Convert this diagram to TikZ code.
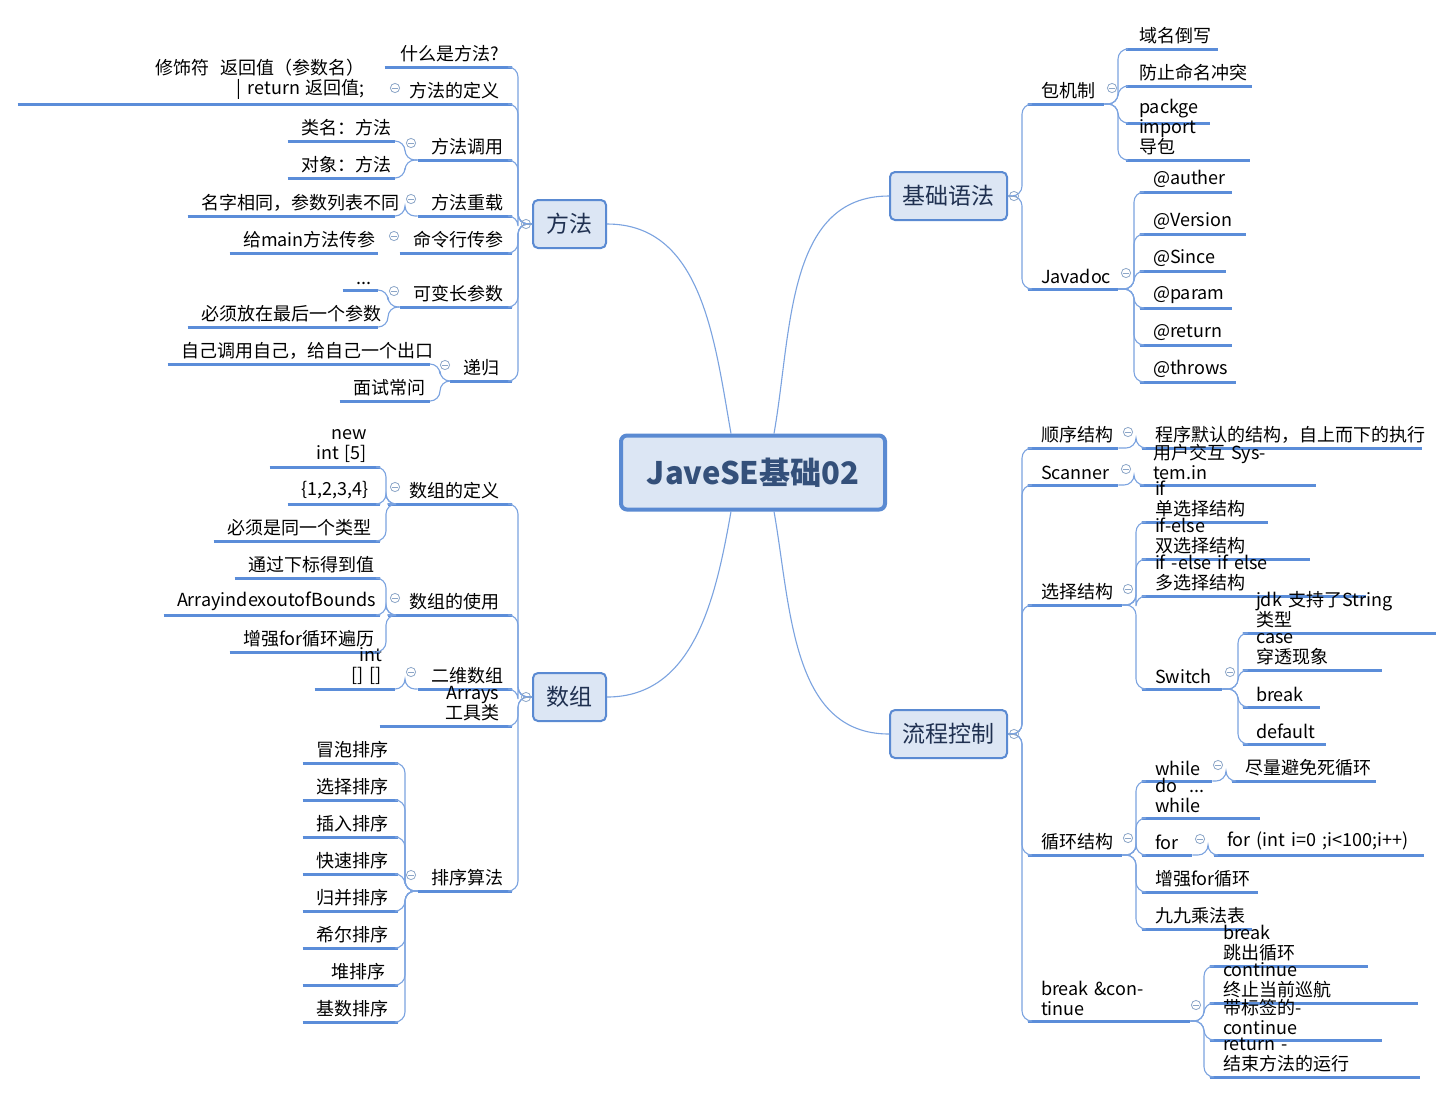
\documentclass[tikz,border=0pt]{standalone}
\usepackage{fontspec}
\setmainfont{Noto Sans CJK SC}
\usetikzlibrary{calc}
\definecolor{ulc}{HTML}{5B8DD9}
\definecolor{cnc}{HTML}{7BA3E0}
\definecolor{tfill}{HTML}{DCE6F4}
\definecolor{tbord}{HTML}{5A8AD2}
\definecolor{ttext}{HTML}{1F3050}
\definecolor{ctext}{HTML}{34507A}
\definecolor{togc}{HTML}{8CA6C8}
\tikzset{
  itm/.style={inner xsep=6.5pt,inner ysep=2.2pt,font=\fontsize{9}{10}\selectfont,text=black},
  ul/.style={draw=ulc,line width=1.5pt},
  conn/.style={draw=cnc,line width=0.55pt,rounded corners=5pt},
  topic/.style={draw=tbord,line width=1pt,fill=tfill,rounded corners=2.5pt,text=ttext,font=\fontsize{11.5}{13}\selectfont,inner sep=0pt},
  tog/.style={circle,draw=togc,line width=0.4pt,minimum size=4.6pt,inner sep=0pt,
    path picture={\draw[togc,line width=0.4pt] ([xshift=-1.3pt]path picture bounding box.center) -- ([xshift=1.3pt]path picture bounding box.center);}}
}
\newcommand\NL[5]{\pgfmathsetmacro\tw{(#3-#2)*0.5-13}\node[itm,anchor=south,text width=\tw pt,align=right] (#1) at ({(#2+#3)/2},#4) {#5};\draw[ul] (#1.south west) -- (#1.south east);}
\newcommand\NR[5]{\pgfmathsetmacro\tw{(#3-#2)*0.5-13}\node[itm,anchor=south,text width=\tw pt,align=left] (#1) at ({(#2+#3)/2},#4) {#5};\draw[ul] (#1.south west) -- (#1.south east);}
\newcommand\brL[3]{\draw[conn] (#1) -| (#3,0 |- #2) -- (#2);}
\newcommand\brR[3]{\draw[conn] (#2) -- (#3,0 |- #2) |- (#1);}
\begin{document}
\begin{tikzpicture}[x=0.5pt,y=-0.5pt]
\useasboundingbox[fill=white] (0,0) rectangle (1455,1094);
% center and topics
\node[draw=tbord,line width=2pt,fill=tfill,rounded corners=3pt,minimum width=132pt,minimum height=37pt,text=ctext,font=\fontsize{15.5}{17}\selectfont\bfseries] (cen) at (753,472.5) {JaveSE基础02};
\node[topic,minimum width=36.5pt,minimum height=24pt] (fa) at (569.5,224) {方法};
\node[topic,minimum width=36.5pt,minimum height=24pt] (sz) at (569.5,697) {数组};
\node[topic,minimum width=58.5pt,minimum height=24pt] (jc) at (948.5,196) {基础语法};
\node[topic,minimum width=58.5pt,minimum height=24pt] (lc) at (948.5,734) {流程控制};
\draw[conn] ([xshift=-11pt]cen.north) to[out=100,in=0] (fa.east);
\draw[conn] ([xshift=10.5pt]cen.north) to[out=80,in=180] (jc.west);
\draw[conn] ([xshift=-11pt]cen.south) to[out=-100,in=0] (sz.east);
\draw[conn] ([xshift=10.5pt]cen.south) to[out=-80,in=180] (lc.west);
% ===== 方法 =====
\NL{m1}{385}{512}{67}{什么是方法?}
\NL{m2}{378}{512}{104}{方法的定义}
\NL{m2a}{18}{378}{104}{修饰符\ \ 返回值（参数名）\ \ | return 返回值;}
\NL{m3}{418}{512}{160}{方法调用}
\NL{m3a}{288}{395}{141}{类名：方法}
\NL{m3b}{288}{395}{178}{对象：方法}
\NL{m4}{418}{512}{216}{方法重载}
\NL{m4a}{188}{395}{216}{名字相同，参数列表不同}
\NL{m5}{400}{512}{253}{命令行传参}
\NL{m5a}{230}{378}{253}{给main方法传参}
\NL{m6}{400}{512}{307}{可变长参数}
\NL{m6a}{343}{378}{290}{...}
\NL{m6b}{188}{378}{327}{必须放在最后一个参数}
\NL{m7}{450}{512}{381}{递归}
\NL{m7a}{168}{430}{364}{自己调用自己，给自己一个出口}
\NL{m7b}{340}{430}{401}{面试常问}
\foreach \c in {m1,m2,m3,m4,m5,m6,m7} {\brL{\c.south east}{fa.west}{518}}
\brL{m3a.south east}{m3.south west}{405}
\brL{m3b.south east}{m3.south west}{405}
\brL{m4a.south east}{m4.south west}{405}
\brL{m6a.south east}{m6.south west}{388}
\brL{m6b.south east}{m6.south west}{388}
\brL{m7a.south east}{m7.south west}{440}
\brL{m7b.south east}{m7.south west}{440}
\node[tog] (tfa) at (526,224) {};
\node[tog] (tm2) at (395,88) {};
\node[tog] (tm3) at (411,143) {};
\node[tog] (tm4) at (411,199) {};
\node[tog] (tm5) at (394,236) {};
\node[tog] (tm6) at (394,291) {};
\node[tog] (tm7) at (445,365) {};
% ===== 数组 =====
\NL{a1}{388}{512}{504}{数组的定义}
\NL{a1a}{270}{380}{467}{new int [5]}
\NL{a1b}{288}{380}{504}{\{1,2,3,4\}}
\NL{a1c}{214}{380}{541}{必须是同一个类型}
\NL{a2}{388}{512}{615}{数组的使用}
\NL{a2a}{235}{380}{578}{通过下标得到值}
\NL{a2b}{164}{380}{615}{ArrayindexoutofBounds}
\NL{a2c}{230}{380}{652}{增强for循环遍历}
\NL{a3}{418}{512}{689}{二维数组}
\NL{a3a}{315}{395}{689}{int [] []}
\NL{a4}{380}{512}{726}{Arrays 工具类}
\NL{a5}{418}{512}{891}{排序算法}
\NL{s1}{303}{398}{763}{冒泡排序}
\NL{s2}{303}{398}{800}{选择排序}
\NL{s3}{303}{398}{837}{插入排序}
\NL{s4}{303}{398}{874}{快速排序}
\NL{s5}{303}{398}{911}{归并排序}
\NL{s6}{303}{398}{948}{希尔排序}
\NL{s7}{303}{398}{985}{堆排序}
\NL{s8}{303}{398}{1022}{基数排序}
\foreach \c in {a1,a2,a3,a4,a5} {\brL{\c.south east}{sz.west}{518}}
\foreach \c in {a1a,a1b,a1c} {\brL{\c.south east}{a1.south west}{386}}
\foreach \c in {a2a,a2b,a2c} {\brL{\c.south east}{a2.south west}{386}}
\brL{a3a.south east}{a3.south west}{405}
\foreach \c in {s1,s2,s3,s4,s5,s6,s7,s8} {\brL{\c.south east}{a5.south west}{405}}
\node[tog] (tsz) at (526,697) {};
\node[tog] (ta1) at (395,487) {};
\node[tog] (ta2) at (395,598) {};
\node[tog] (ta3) at (411,672) {};
\node[tog] (ta5) at (411,875) {};
% ===== 基础语法 =====
\NR{b1}{1028}{1104}{104}{包机制}
\NR{b1a}{1126}{1218}{49}{域名倒写}
\NR{b1b}{1126}{1252}{86}{防止命名冲突}
\NR{b1c}{1126}{1210}{123}{packge}
\NR{b1d}{1126}{1250}{160}{import\ \ 导包}
\NR{b2}{1028}{1118}{289}{Javadoc}
\NR{b2a}{1140}{1232}{192}{@auther}
\NR{b2b}{1140}{1246}{234}{@Version}
\NR{b2c}{1140}{1226}{271}{@Since}
\NR{b2d}{1140}{1232}{308}{@param}
\NR{b2e}{1140}{1232}{345}{@return}
\NR{b2f}{1140}{1236}{382}{@throws}
\foreach \c in {b1,b2} {\brR{\c.south west}{jc.east}{1022}}
\foreach \c in {b1a,b1b,b1c,b1d} {\brR{\c.south west}{b1.south east}{1118}}
\foreach \c in {b2a,b2b,b2c,b2d,b2e,b2f} {\brR{\c.south west}{b2.south east}{1134}}
\node[tog] (tjc) at (1014,196) {};
\node[tog] (tb1) at (1112,88) {};
\node[tog] (tb2) at (1126,273) {};
% ===== 流程控制 =====
\NR{c1}{1028}{1118}{448}{顺序结构}
\NR{c1a}{1142}{1422}{448}{程序默认的结构，自上而下的执行}
\NR{c2}{1028}{1118}{485}{Scanner}
\NR{c2a}{1140}{1316}{485}{用户交互 System.in}
\NR{c3}{1028}{1122}{605}{选择结构}
\NR{c3a}{1142}{1268}{522}{if 单选择结构}
\NR{c3b}{1142}{1310}{559}{if-else 双选择结构}
\NR{c3c}{1142}{1366}{596}{if -else if else 多选择结构}
\NR{c3d}{1142}{1222}{689}{Switch}
\NR{w1}{1243}{1436}{633}{jdk 支持了String 类型}
\NR{w2}{1243}{1382}{670}{case\ \ 穿透现象}
\NR{w3}{1243}{1320}{707}{break}
\NR{w4}{1243}{1326}{744}{default}
\NR{c4}{1028}{1122}{855}{循环结构}
\NR{c4a}{1142}{1212}{781}{while}
\NR{c4a1}{1232}{1376}{781}{尽量避免死循环}
\NR{c4b}{1142}{1260}{818}{do\ \ ... while}
\NR{c4c}{1142}{1192}{855}{for}
\NR{c4c1}{1214}{1424}{855}{for (int i=0 ;i<100;i++)}
\NR{c4d}{1142}{1258}{892}{增强for循环}
\NR{c4e}{1142}{1252}{929}{九九乘法表}
\NR{c5}{1028}{1190}{1021}{break \&continue}
\NR{c5a}{1210}{1368}{966}{break\quad 跳出循环}
\NR{c5b}{1210}{1418}{1003}{continue\ \ 终止当前巡航}
\NR{c5c}{1210}{1382}{1040}{带标签的-continue}
\NR{c5d}{1210}{1420}{1077}{return - 结束方法的运行}
\foreach \c in {c1,c2,c3,c4,c5} {\brR{\c.south west}{lc.east}{1022}}
\brR{c1a.south west}{c1.south east}{1136}
\brR{c2a.south west}{c2.south east}{1134}
\foreach \c in {c3a,c3b,c3c,c3d} {\brR{\c.south west}{c3.south east}{1136}}
\foreach \c in {w1,w2,w3,w4} {\brR{\c.south west}{c3d.south east}{1238}}
\foreach \c in {c4a,c4b,c4c,c4d,c4e} {\brR{\c.south west}{c4.south east}{1136}}
\brR{c4a1.south west}{c4a.south east}{1226}
\brR{c4c1.south west}{c4c.south east}{1208}
\foreach \c in {c5a,c5b,c5c,c5d} {\brR{\c.south west}{c5.south east}{1204}}
\node[tog] (tlc) at (1014,734) {};
\node[tog] (tc1) at (1128,432) {};
\node[tog] (tc2) at (1126,469) {};
\node[tog] (tc3) at (1128,589) {};
\node[tog] (tc3d) at (1230,672) {};
\node[tog] (tc4) at (1128,838) {};
\node[tog] (tc4a) at (1218,765) {};
\node[tog] (tc4c) at (1200,839) {};
\node[tog] (tc5) at (1196,1005) {};
\end{tikzpicture}
\end{document}
